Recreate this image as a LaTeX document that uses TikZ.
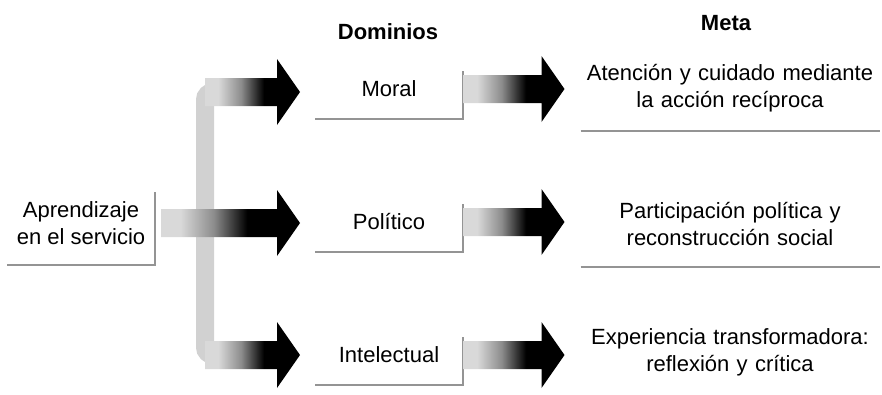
\documentclass[tikz,border=0pt]{standalone}
\usepackage{fontspec}
\setmainfont{Liberation Sans}
\usetikzlibrary{calc}
\pgfdeclarehorizontalshading{fadetoblack}{100bp}{color(0bp)=(black!15); color(32bp)=(black!15); color(44bp)=(black!45); color(56bp)=(black); color(100bp)=(black)}

\begin{document}
\begin{tikzpicture}[
        x=1pt, y=-1pt,
        font=\fontsize{22}{27}\selectfont,
        every node/.style={inner sep=0pt, outer sep=0pt},
        Domain/.style={minimum width=148pt, minimum height=60pt},
        Goal/.style={text width=299pt, align=center, minimum height=86pt},
        Edge/.style={draw=black!42, line width=1.6pt},
        Bracket/.style={draw=black!18, line width=18pt, rounded corners=8pt},
        FatArrow/.style={shade, shading=fadetoblack, to path={
            let \p1=(\tikztostart), \p2=(\tikztotarget) in
            (\x1,\y1+14pt) -- (\x2-23pt,\y1+14pt) -- (\x2-23pt,\y1+33pt) -- (\x2,\y1)
            -- (\x2-23pt,\y1-33pt) -- (\x2-23pt,\y1-14pt) -- (\x1,\y1-14pt) -- cycle}},
    ]
    \useasboundingbox (0,0) rectangle (882,394);

    % headings
    \node[font=\fontsize{22}{27}\selectfont\bfseries] (dominios) at (388,32) {Dominios};
    \node[font=\fontsize{22}{27}\selectfont\bfseries] (metahead) at (726,23) {Meta};

    % left
    \node[align=center, minimum width=148pt, minimum height=84pt] (aprend) at (81,223) {Aprendizaje\\en el servicio};

    % domains
    \node[Domain] (moral) at (389,89) {Moral};
    \node[Domain] (politico) at (389,222) {Político};
    \node[Domain] (intelectual) at (389,355) {Intelectual};

    % goals
    \node[Goal] (meta1) at (730,88) {Atención y cuidado mediante\\la acción recíproca};
    \node[Goal] (meta2) at (730,224) {Participación política y\\reconstrucción social};
    \node[Goal] (meta3) at (730,352) {Experiencia transformadora:\\reflexión y crítica};

    % box edges
    \draw[Edge] ([yshift=-11pt]aprend.north east) |- (aprend.south west);
    \draw[Edge] ([yshift=-12pt]moral.north east) |- (moral.south west);
    \draw[Edge] ([yshift=-12pt]politico.north east) |- (politico.south west);
    \draw[Edge] ([yshift=-12pt]intelectual.north east) |- (intelectual.south west);
    \draw[Edge] (meta1.south west) -- (meta1.south east);
    \draw[Edge] (meta2.south west) -- (meta2.south east);

    % bracket
    \coordinate (btop) at (205,92);
    \coordinate (bbot) at (205,355);
    \draw[Bracket] ([xshift=30pt]btop) -- (btop) -- (bbot) -- ([xshift=30pt]bbot);

    % arrows
    \path[FatArrow] (btop) to ([xshift=-15pt]moral.west);
    \path[FatArrow] ([xshift=6pt]aprend.east) to ([xshift=-15pt]politico.west);
    \path[FatArrow] (bbot) to ([xshift=-15pt]intelectual.west);
    \path[FatArrow] (moral.east) to ([xshift=-16pt]meta1.west);
    \path[FatArrow] (politico.east) to ([xshift=-16pt]meta2.west);
    \path[FatArrow] (intelectual.east) to ([xshift=-16pt]meta3.west);
\end{tikzpicture}
\end{document}
